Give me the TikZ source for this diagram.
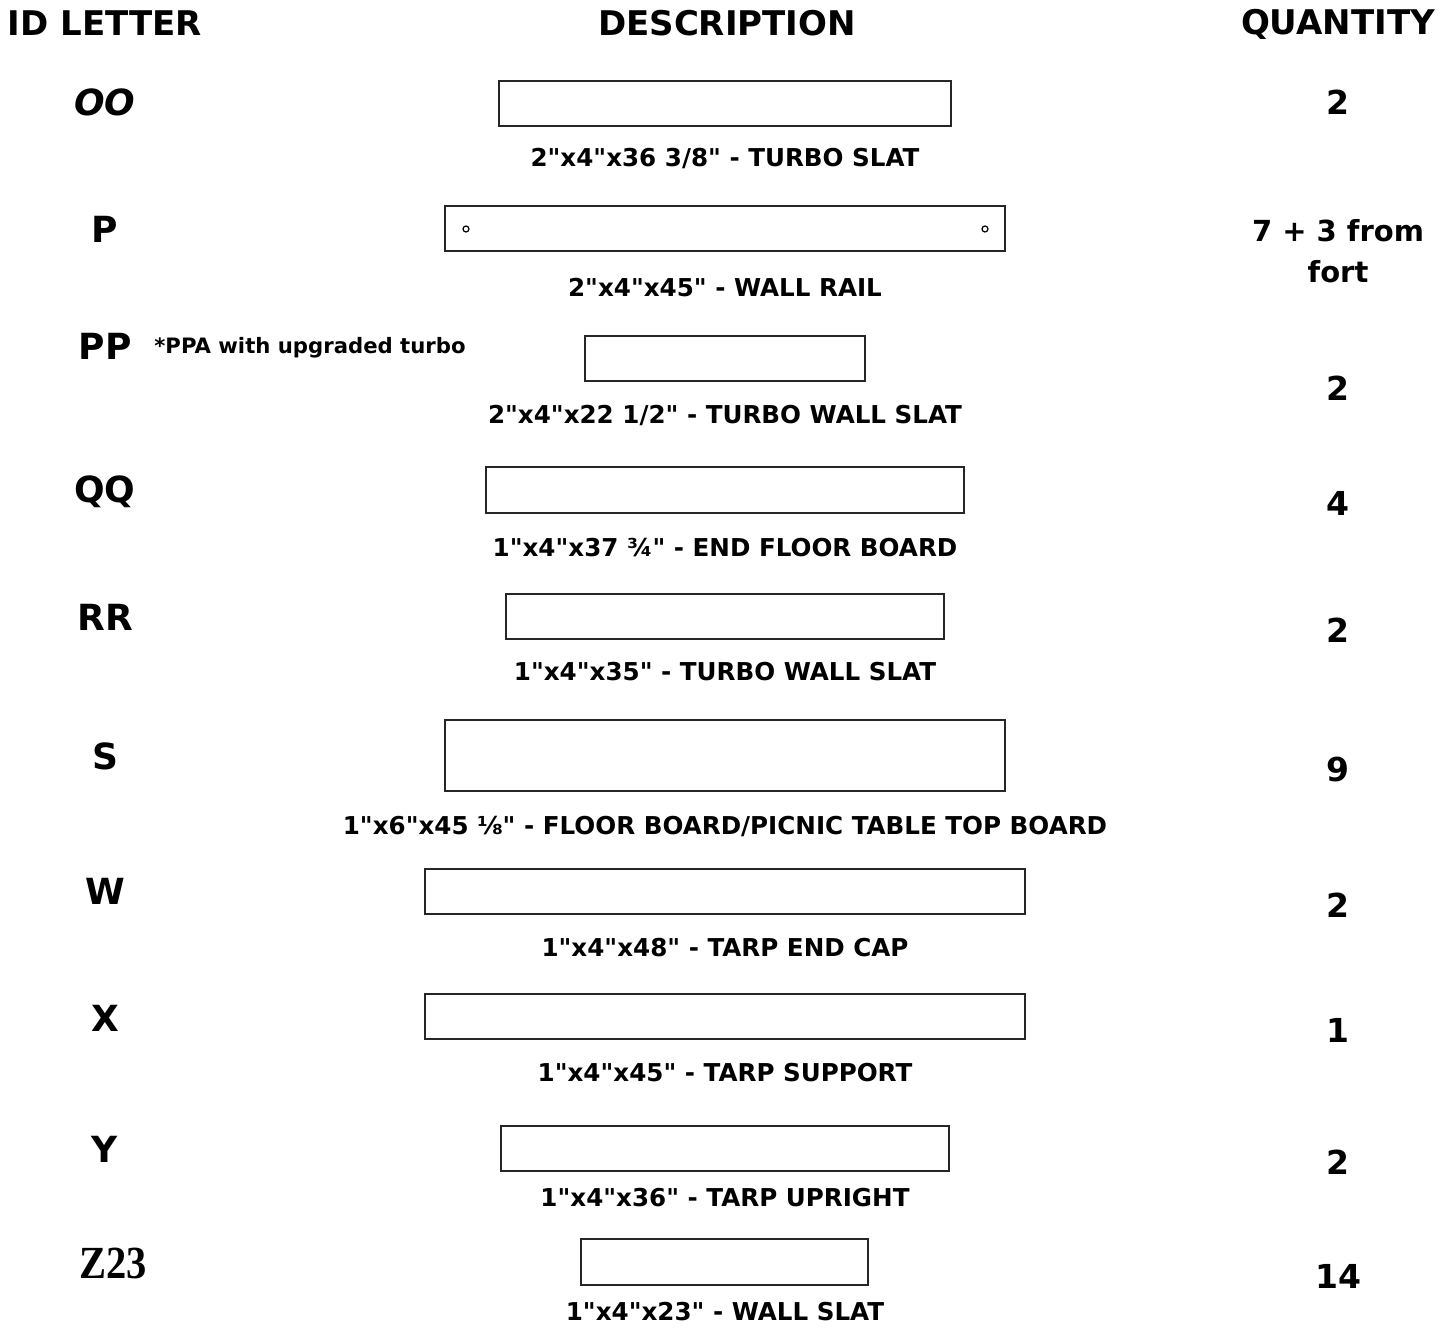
\documentclass[tikz,border=0pt]{standalone}
\usepackage{fontspec}
\setmainfont{DejaVu Sans}[Ligatures=TeXOff]
\newfontfamily\serifid{Liberation Serif}
\usetikzlibrary{calc}
\tikzset{head/.style={anchor=base, font=\fontsize{17}{20}\selectfont\bfseries}}
\tikzset{idl/.style={anchor=base, font=\fontsize{18}{22}\selectfont\bfseries}}
\tikzset{desc/.style={anchor=base, font=\fontsize{12.3}{15}\selectfont\bfseries}}
\tikzset{qty/.style={anchor=base, font=\fontsize{16.5}{20.5}\selectfont\bfseries, align=center}}
\tikzset{board/.style={draw=black!85, line width=1pt}}

\begin{document}
\begin{tikzpicture} [x=0.5pt, y=-0.5pt]
\useasboundingbox (0,0) rectangle (1455,1327);
\node[head] (h-id) at (105,36) {ID LETTER};
\node[head] (h-desc) at (727,36) {DESCRIPTION};
\node[head] (h-qty) at (1338,35) {QUANTITY};

\node[idl] (id-oo) at (105,116) {\itshape OO};
\draw[board] (499,81) rectangle (951,126);
\node[desc] (d-oo) at (725,166) {2"x4"x36 3/8" - TURBO SLAT};
\node[qty] (q-oo) at (1338,115) {2};

\node[idl] (id-p) at (105,242) {P};
\draw[board] (445,206) rectangle (1005,251);
\draw[black, line width=.6pt] (466,229) circle (1.5pt) (985,229) circle (1.5pt);
\node[desc] (d-p) at (725,296) {2"x4"x45" - WALL RAIL};
\node[qty, anchor=center, font=\fontsize{14.5}{20.5}\selectfont\bfseries] (q-p) at (1338,251) {7 + 3 from\\fort};

\node[idl] (id-pp) at (105,359) {PP};
\node[desc, font=\fontsize{10.6}{13}\selectfont\bfseries] (n-pp) at (310,353) {*PPA with upgraded turbo};
\draw[board] (585,336) rectangle (865,381);
\node[desc] (d-pp) at (725,423) {2"x4"x22 1/2" - TURBO WALL SLAT};
\node[qty] (q-pp) at (1338,400) {2};

\node[idl] (id-qq) at (105,502) {QQ};
\draw[board] (486,467) rectangle (964,513);
\node[desc] (d-qq) at (725,556) {1"x4"x37 ¾" - END FLOOR BOARD};
\node[qty] (q-qq) at (1338,515) {4};

\node[idl] (id-rr) at (105,630) {RR};
\draw[board] (506,594) rectangle (944,639);
\node[desc] (d-rr) at (725,680) {1"x4"x35" - TURBO WALL SLAT};
\node[qty] (q-rr) at (1338,642) {2};

\node[idl] (id-s) at (105,769) {S};
\draw[board] (445,720) rectangle (1005,791);
\node[desc] (d-s) at (725,834) {1"x6"x45 ⅛" - FLOOR BOARD/PICNIC TABLE TOP BOARD};
\node[qty] (q-s) at (1338,781) {9};

\node[idl] (id-w) at (105,904) {W};
\draw[board] (425,869) rectangle (1025,914);
\node[desc] (d-w) at (725,956) {1"x4"x48" - TARP END CAP};
\node[qty] (q-w) at (1338,917) {2};

\node[idl] (id-x) at (105,1031) {X};
\draw[board] (425,994) rectangle (1025,1039);
\node[desc] (d-x) at (725,1081) {1"x4"x45" - TARP SUPPORT};
\node[qty] (q-x) at (1338,1042) {1};

\node[idl] (id-y) at (105,1162) {Y};
\draw[board] (501,1126) rectangle (949,1171);
\node[desc] (d-y) at (725,1206) {1"x4"x36" - TARP UPRIGHT};
\node[qty] (q-y) at (1338,1174) {2};

\node[anchor=base, font=\serifid\fontsize{23}{26}\selectfont\bfseries] (id-z) at (113,1278) {\scalebox{.88}[1]{Z23}};
\draw[board] (581,1239) rectangle (868,1285);
\node[desc] (d-z) at (725,1320) {1"x4"x23" - WALL SLAT};
\node[qty] (q-z) at (1338,1288) {14};
\end{tikzpicture}
\end{document}
